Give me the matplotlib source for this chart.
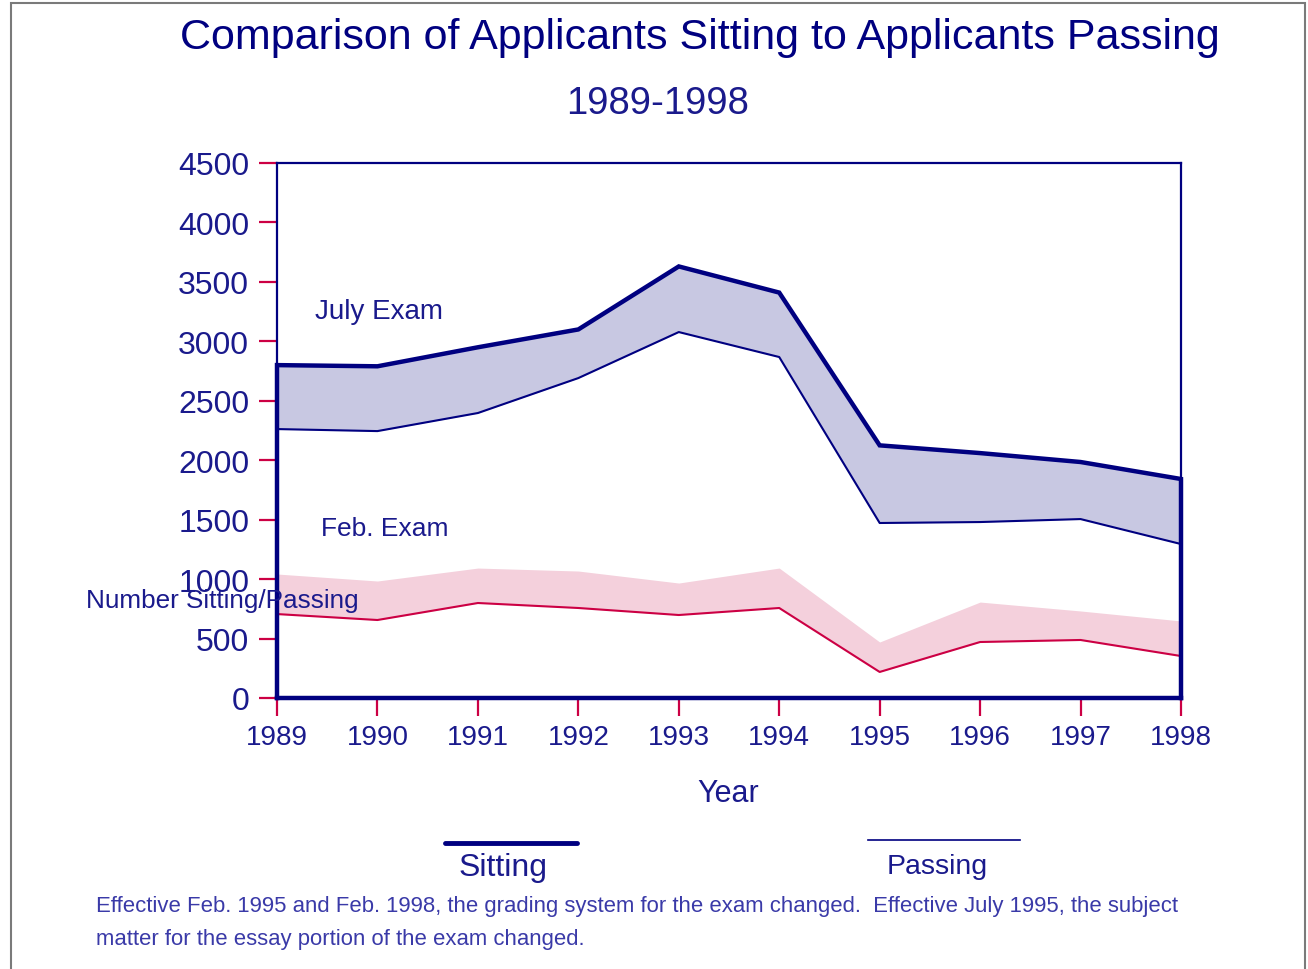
import numpy as np
import matplotlib.pyplot as plt
from matplotlib.patches import Rectangle

plt.rcParams['font.family'] = ['Liberation Sans', 'DejaVu Sans']

# Dane
years = np.arange(1989, 1999)
july_sitting = [2800, 2790, 2950, 3100, 3630, 3410, 2125, 2060, 1985, 1842]
july_passing = [2262, 2245, 2397, 2691, 3078, 2868, 1472, 1480, 1505, 1295]
feb_sitting = [1043, 984, 1093, 1068, 967, 1093, 471, 807, 732, 648]
feb_passing = [706, 656, 799, 757, 698, 757, 219, 471, 488, 353]

navy = '#000080'
crimson = '#CC0044'
txt = '#1a1a8c'

fig = plt.figure(figsize=(13.08, 9.70), dpi=100)
ax = fig.add_axes([277/1308, 1-699/970, (1181-277)/1308, (699-164)/970])

# Luty
ax.fill_between(years, feb_passing, feb_sitting, color='#F4D0DC', lw=0)
ax.plot(years, feb_passing, color=crimson, lw=1.5)

# Lipiec
ax.fill_between(years, july_passing, july_sitting, color='#C8C8E2', lw=0)
ax.plot(years, july_passing, color=navy, lw=1.5)
xs = np.concatenate(([years[0]], years, [years[-1]]))
ys = np.concatenate(([0], july_sitting, [0]))
ax.plot(xs, ys, color=navy, lw=3.2, solid_joinstyle='miter', clip_on=False)

ax.set_xlim(1989, 1998)
ax.set_ylim(0, 4500)
ax.set_xticks(years)
ax.set_yticks(np.arange(0, 4501, 500))
for s in ax.spines.values():
    s.set_color(navy)
    s.set_linewidth(1.6)
ax.spines['bottom'].set_linewidth(3.2)
ax.tick_params(axis='both', colors=crimson, length=13, width=1.6, direction='out',
               labelcolor=txt)
ax.tick_params(axis='x', pad=6, labelsize=20)
ax.tick_params(axis='y', pad=7, labelsize=23)


def figtext(x, y, s, color=txt, **kw):
    fig.text(x/1308, 1-y/970, s, color=color, **kw)


figtext(700, 38, 'Comparison of Applicants Sitting to Applicants Passing',
        fontsize=31, ha='center', va='center', color=navy)
figtext(658, 104, '1989-1998', fontsize=27.5, ha='center', va='center')
figtext(315, 312, 'July Exam', fontsize=20, ha='left', va='center')
figtext(321, 529, 'Feb. Exam', fontsize=19, ha='left', va='center')
figtext(222, 601, 'Number Sitting/Passing', fontsize=18.8, ha='center', va='center')
figtext(728, 794, 'Year', fontsize=22, ha='center', va='center')
figtext(503, 868, 'Sitting', fontsize=23, ha='center', va='center')
figtext(937, 867, 'Passing', fontsize=20.5, ha='center', va='center')
figtext(96, 907, 'Effective Feb. 1995 and Feb. 1998, the grading system for the exam changed.  '
        'Effective July 1995, the subject', fontsize=15.9, ha='left', va='center', color='#3a3aa8')
figtext(96, 940, 'matter for the essay portion of the exam changed.', fontsize=15.9,
        ha='left', va='center', color='#3a3aa8')

# Legenda
fig.add_artist(plt.Line2D([445/1308, 577/1308], [1-844/970]*2, color=navy, lw=3.5,
                          solid_capstyle='round'))
fig.add_artist(plt.Line2D([868/1308, 1020/1308], [1-841/970]*2, color=navy, lw=1.2))

# Ramka
fig.add_artist(Rectangle((11/1308, -0.05), (1305-11)/1308, 1.05 - 4/970,
                         transform=fig.transFigure, fill=False, ec='#7a7a7a', lw=1.5))

plt.savefig('out.png', dpi=100)
